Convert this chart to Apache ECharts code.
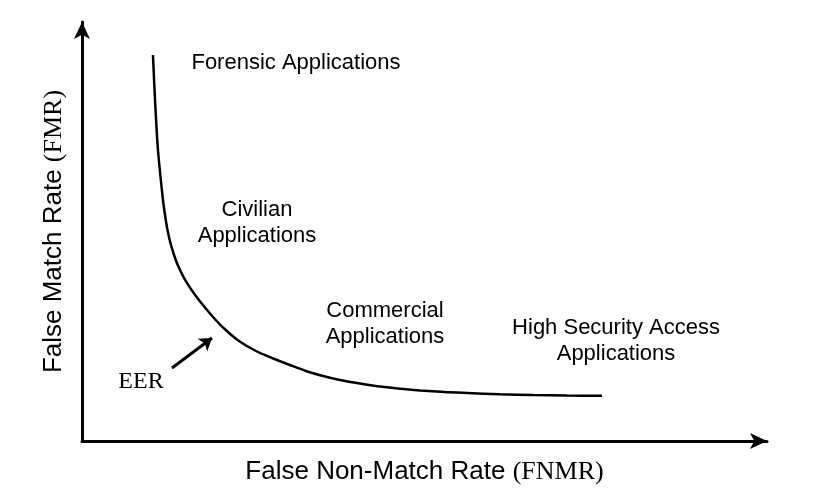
<!DOCTYPE html>
<html>
<head>
<meta charset="utf-8">
<script src="https://cdn.jsdelivr.net/npm/echarts@6/dist/echarts.min.js"></script>
<style>
  html, body { margin: 0; padding: 0; background: #fff; }
  #chart { width: 814px; height: 501px; }
</style>
</head>
<body>
<div id="chart"></div>
<script>
// trade-off curve (FNMR on x, FMR on y), arbitrary 0..100 units
const curveX = [10.36, 10.66, 11.09, 11.82, 12.12, 12.48, 12.99, 13.69, 14.31, 15.07, 16.41, 18.04, 19.52, 20.98, 22.91, 25.4, 27.93, 30.36, 32.8, 35.18, 37.66, 40.58, 43.5, 46.42, 49.34, 52.99, 56.2, 61.02, 65.84, 70.8, 75.91]
const curveY = [92.12, 81.38, 69.45, 57.52, 53.94, 50.36, 46.78, 43.2, 40.81, 38.42, 35.08, 31.67, 28.88, 26.49, 23.87, 21.48, 19.69, 18.14, 16.66, 15.51, 14.56, 13.7, 12.98, 12.46, 12.08, 11.69, 11.46, 11.15, 10.98, 10.86, 10.79]

// region labels
const noteText = ['Forensic Applications', 'Civilian\nApplications', 'Commercial\nApplications', 'High Security Access\nApplications']
const noteX = [31.24, 25.55, 44.23, 77.96]
const noteY = [90.21, 52.03, 27.92, 23.87]

// EER pointer
const eerLabel = [8.61, 14.08]
const eerArrow = [[13.14, 17.42], [18.98, 24.58]]

const sans = 'Liberation Sans, Arial, sans-serif'
const serif = 'Liberation Serif, Times New Roman, serif'

const chart = echarts.init(document.getElementById('chart'))

const axisBase = {
  type: 'value',
  min: 0,
  max: 100,
  nameLocation: 'middle',
  axisLine: {
    show: true,
    symbol: ['none', 'arrow'],
    symbolSize: [12, 17],
    lineStyle: { color: '#000', width: 3 }
  },
  axisTick: { show: false },
  axisLabel: { show: false },
  splitLine: { show: false }
}

const nameRich = {
  a: { fontFamily: sans, fontSize: 26, color: '#000' },
  b: { fontFamily: serif, fontSize: 26, color: '#000' }
}

chart.setOption({
  animation: false,
  backgroundColor: '#fff',
  grid: { left: 82, right: 47, top: 22, bottom: 60 },
  xAxis: Object.assign({}, axisBase, {
    name: '{a|False Non-Match Rate }{b|(FNMR)}',
    nameGap: 18,
    nameTextStyle: { rich: nameRich }
  }),
  yAxis: Object.assign({}, axisBase, {
    name: '{a|False Match Rate }{b|(FMR)}',
    nameGap: 15,
    nameTextStyle: { rich: nameRich }
  }),
  series: [
    {
      type: 'line',
      data: curveX.map((x, i) => [x, curveY[i]]),
      smooth: 0.3,
      showSymbol: false,
      lineStyle: { color: '#000', width: 2.5 }
    },
    {
      type: 'scatter',
      symbolSize: 0,
      itemStyle: { opacity: 1 },
      data: noteText.map((t, i) => ({ name: t, value: [noteX[i], noteY[i]] })),
      label: {
        show: true,
        position: 'inside',
        formatter: p => p.name,
        fontFamily: sans,
        fontSize: 22,
        lineHeight: 26,
        color: '#000',
        textBorderWidth: 0,
        align: 'center',
        verticalAlign: 'middle'
      }
    },
    {
      type: 'scatter',
      symbolSize: 0,
      itemStyle: { opacity: 1 },
      data: [{ name: 'EER', value: eerLabel }],
      label: {
        show: true,
        position: 'inside',
        formatter: 'EER',
        fontFamily: serif,
        fontSize: 24,
        color: '#000',
        textBorderWidth: 0
      }
    },
    {
      type: 'lines',
      coordinateSystem: 'cartesian2d',
      symbol: ['none', 'arrow'],
      symbolSize: 12,
      lineStyle: { color: '#000', width: 3, opacity: 1 },
      data: [{ coords: eerArrow }]
    }
  ]
})

window.addEventListener('resize', () => chart.resize())
</script>
</body>
</html>
